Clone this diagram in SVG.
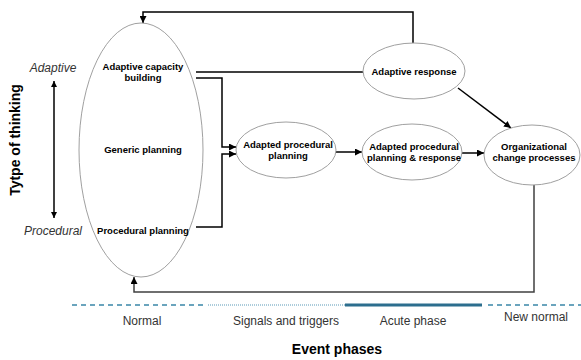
<svg xmlns="http://www.w3.org/2000/svg" width="581" height="360" viewBox="0 0 581 360">
<defs>
<marker id="ah" viewBox="0 0 10 10" refX="10" refY="5" markerWidth="7" markerHeight="7" markerUnits="userSpaceOnUse" orient="auto"><path d="M0,0 L10,5 L0,10 z" fill="#000"/></marker>
<marker id="ahs" viewBox="0 0 10 10" refX="10" refY="5" markerWidth="6" markerHeight="6" markerUnits="userSpaceOnUse" orient="auto-start-reverse"><path d="M0,0 L10,5 L0,10 z" fill="#000"/></marker>
</defs>
<style>
.nd{fill:#fff;stroke:#a0a0a0;stroke-width:1}
.b{font-family:"Liberation Sans",Arial,sans-serif;font-weight:bold;font-size:9.5px;fill:#000;text-anchor:middle}
.it{font-family:"Liberation Sans",Arial,sans-serif;font-style:italic;font-size:12px;fill:#333;text-anchor:middle}
.ph{font-family:"Liberation Sans",Arial,sans-serif;font-size:12px;fill:#333;text-anchor:middle}
.ttl{font-family:"Liberation Sans",Arial,sans-serif;font-weight:bold;font-size:14px;fill:#000;text-anchor:middle}
.c{fill:none;stroke:#000;stroke-width:1.5}
.cg{fill:none;stroke:#404040;stroke-width:1.5}
</style>
<rect width="581" height="360" fill="#fff"/>
<g id="connectors">
<path class="c" d="M413,43 V12 H143 V23" marker-end="url(#ah)"/>
<path class="c" d="M363,72 H196"/>
<path class="c" d="M196,78 H222 V147 H236" marker-end="url(#ah)"/>
<path class="c" d="M196,227 H222 V154 H236" marker-end="url(#ah)"/>
<path class="c" d="M336,152 H362" marker-end="url(#ah)"/>
<path class="c" d="M462,153 H484" marker-end="url(#ah)"/>
<path class="c" d="M458,88 L511,128" marker-end="url(#ah)"/>
<path class="cg" d="M534,185 V292 H134 V277" marker-end="url(#ah)"/>
<path class="c" d="M54,81 V218" stroke-width="1.3" marker-start="url(#ahs)" marker-end="url(#ahs)"/>
</g>
<g id="capacity">
<ellipse class="nd" cx="141" cy="150" rx="62" ry="127"/>
<text class="b" x="143" y="70">Adaptive capacity</text>
<text class="b" x="143" y="81">building</text>
<text class="b" x="143" y="153">Generic planning</text>
<text class="b" x="143" y="234">Procedural planning</text>
</g>
<g id="adaptive-response">
<ellipse class="nd" cx="414" cy="71" rx="51" ry="28"/>
<text class="b" x="414" y="75">Adaptive response</text>
</g>
<g id="adapted-planning">
<ellipse class="nd" cx="286" cy="150" rx="50" ry="28"/>
<text class="b" x="288" y="148">Adapted procedural</text>
<text class="b" x="288" y="159">planning</text>
</g>
<g id="adapted-response">
<ellipse class="nd" cx="412" cy="152" rx="50" ry="28"/>
<text class="b" x="414" y="150">Adapted procedural</text>
<text class="b" x="414" y="161">planning &amp; response</text>
</g>
<g id="org-change">
<ellipse class="nd" cx="532" cy="155" rx="48" ry="30"/>
<text class="b" x="534" y="150">Organizational</text>
<text class="b" x="534" y="161">change processes</text>
</g>
<g id="axis">
<text class="ttl" transform="translate(20,140) rotate(-90)">Tytpe of thinking</text>
<text class="it" x="53" y="72">Adaptive</text>
<text class="it" x="53" y="235">Procedural</text>
</g>
<g id="phases">
<line x1="72" y1="305" x2="205" y2="305" stroke="#3a86a8" stroke-width="1.5" stroke-dasharray="5,4"/>
<line x1="208" y1="305" x2="345" y2="305" stroke="#5a9ab8" stroke-width="1.2" stroke-dasharray="1,1"/>
<line x1="345" y1="305" x2="482" y2="305" stroke="#2c6e8e" stroke-width="3"/>
<line x1="488" y1="305" x2="581" y2="305" stroke="#3a86a8" stroke-width="1.5" stroke-dasharray="5,4"/>
<text class="ph" x="142" y="325">Normal</text>
<text class="ph" x="286" y="325">Signals and triggers</text>
<text class="ph" x="413" y="325">Acute phase</text>
<text class="ph" x="536" y="321">New normal</text>
<text class="ttl" x="337" y="354">Event phases</text>
</g>
</svg>
